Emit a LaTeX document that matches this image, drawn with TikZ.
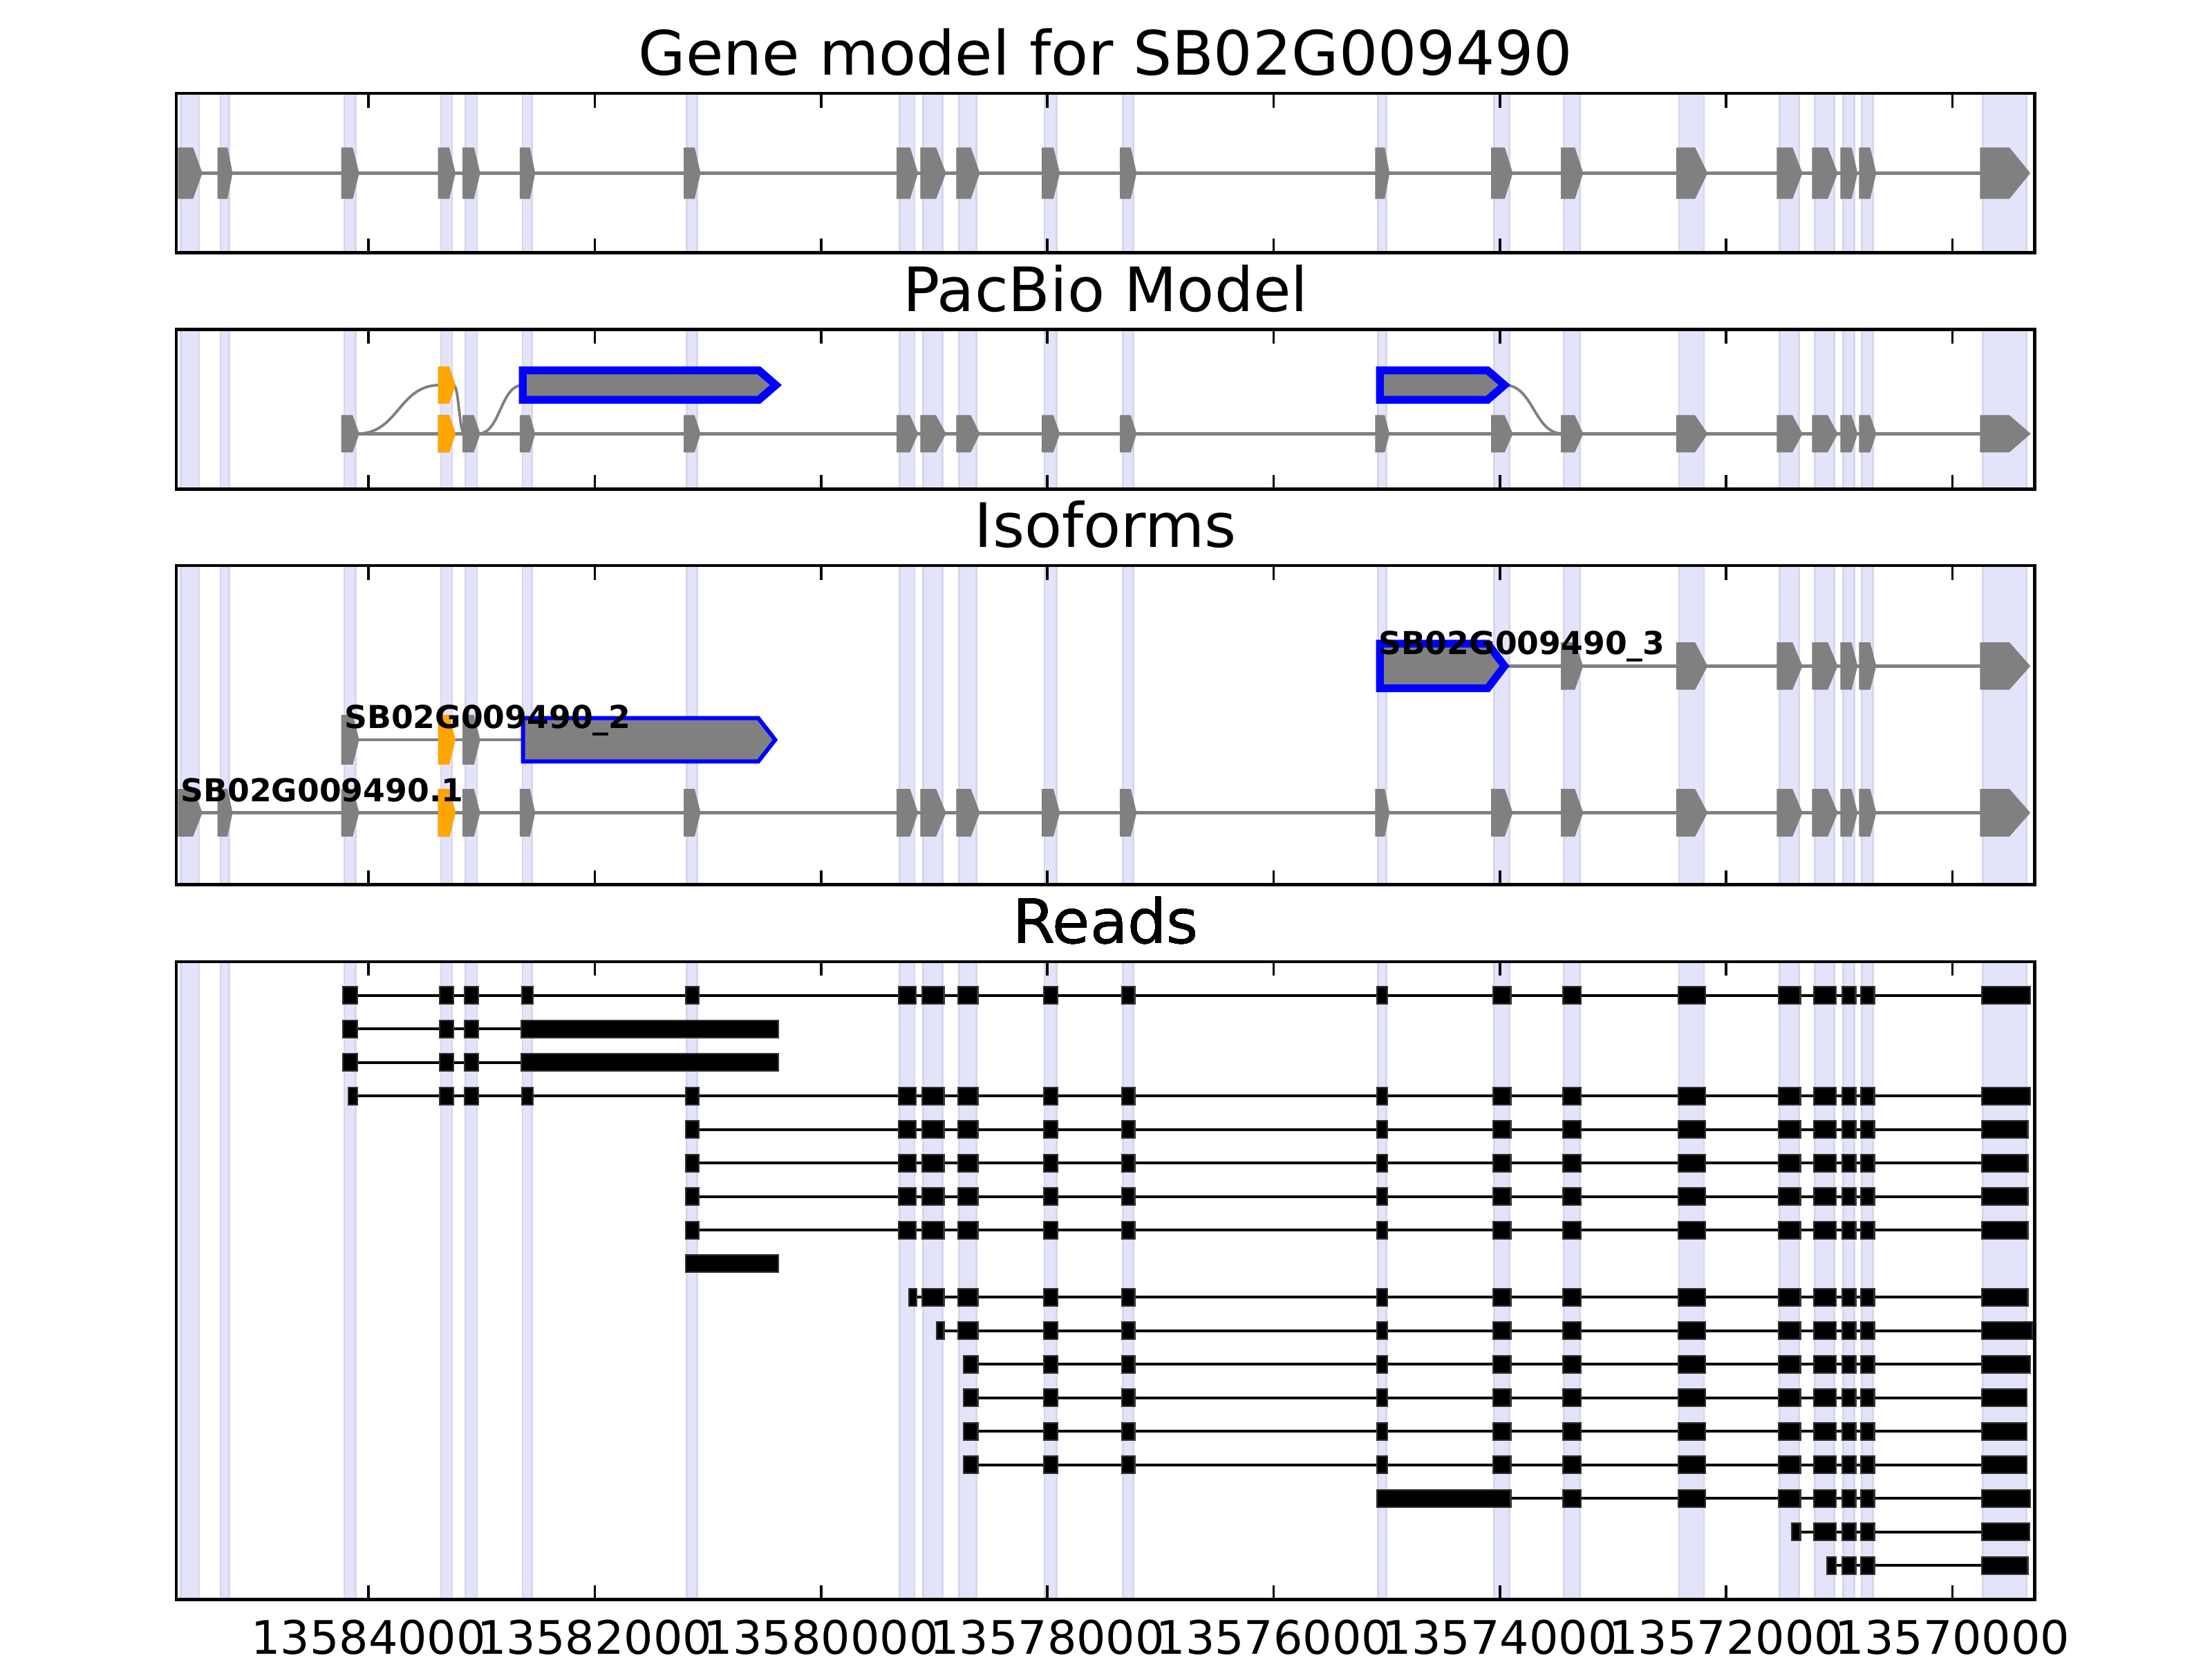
\documentclass[tikz,border=0pt]{standalone}
\usepackage{fontspec}
\setmainfont{DejaVu Sans}

\definecolor{exgray}{HTML}{808080}
\definecolor{exorange}{HTML}{FFA500}
\definecolor{pbblue}{HTML}{0000FF}
\definecolor{bandfill}{HTML}{E3E3FA}
\definecolor{bandline}{HTML}{D6D6EC}

\tikzset{
	band/.style={fill=bandfill, draw=bandline, line width=0.35pt},
	axisline/.style={draw=black, line width=0.65pt},
	axtick/.style={draw=black, line width=0.5pt},
	intron/.style={draw=exgray, line width=0.65pt},
	splice/.style={draw=exgray, line width=0.55pt},
	gexon/.style={line width=0.8pt, line join=miter},
	cds/.style={fill=exgray, draw=pbblue, line join=miter},
	readline/.style={draw=black, line width=0.6pt},
	readbox/.style={fill=black, draw=black!80, line width=0.3pt},
	paneltitle/.style={anchor=base, inner sep=0pt, font=\fontsize{12.6}{15}\selectfont},
	ticklabel/.style={anchor=base, inner sep=0pt, font=\fontsize{9.5}{11}\selectfont},
	isolabel/.style={anchor=base west, inner sep=0pt, font=\fontsize{6.5}{8}\selectfont\bfseries}
}

\def\exlead{127.5/142.0, 155.5/163.5}
\def\exbody{243.2/253.2, 311.8/321.5, 329.3/339.0, 369.8/378.0, 486.0/495.2, 637.0/649.3, 653.7/669.1, 679.2/693.1, 739.8/749.9, 795.2/804.3, 976.1/983.6, 1058.4/1070.9, 1107.9/1120.8, 1189.5/1208.9, 1260.8/1276.2, 1285.8/1301.2, 1305.9/1315.4, 1319.1/1328.6, 1404.9/1437.4}
\edef\exons{\exlead, \exbody}
\def\exright{1107.9/1120.8, 1189.5/1208.9, 1260.8/1276.2, 1285.8/1301.2, 1305.9/1315.4, 1319.1/1328.6, 1404.9/1437.4}
\def\rdmid{739.8/749.9, 795.2/804.3, 976.1/983.6, 1058.4/1070.9, 1107.9/1120.8, 1189.5/1208.9, 1260.8/1276.2, 1285.8/1301.2, 1305.9/1315.4, 1319.1/1328.6}
\def\rdtail{1107.9/1120.8, 1189.5/1208.9, 1260.8/1276.2, 1285.8/1301.2, 1305.9/1315.4, 1319.1/1328.6}

\newcommand{\bands}[2]{\foreach \xa/\xb in \exons {\filldraw[band] (\xa+0.7,#1) rectangle (\xb-1,#2);}}
\newcommand{\axisbox}[2]{%
	\foreach \tx in {261.2,421.6,582.0,742.4,902.8,1063.2,1223.6,1384.0}{
		\draw[axtick] (\tx,#1) -- (\tx,#1+10);
		\draw[axtick] (\tx,#2) -- (\tx,#2-10);}
	\draw[axisline] (125,#1) rectangle (1442.3,#2);}
\newcommand{\gexon}[5][exgray]{%
	\pgfmathsetmacro{\hdl}{0.42*(#3-#2)}
	\filldraw[gexon, fill=#1, draw=#1] (#2,#4-#5) -- (#3-\hdl,#4-#5) -- (#3,#4) -- (#3-\hdl,#4+#5) -- (#2,#4+#5) -- cycle;}
\newcommand{\cdsbox}[5]{%
	\filldraw[cds, line width=#5] (#1,#3-#4) -- (#2-12,#3-#4) -- (#2,#3) -- (#2-12,#3+#4) -- (#1,#3+#4) -- cycle;}
\newcommand{\readrow}[4]{%
	\pgfmathsetmacro{\rowy}{705.4+23.77*(#1-1)}
	\edef\rdlist{#4}
	\draw[readline] (#2,\rowy) -- (#3,\rowy);
	\foreach \xa/\xb in \rdlist {\filldraw[readbox] (\xa,\rowy-6.1) rectangle (\xb,\rowy+6.1);}}

\begin{document}
\begin{tikzpicture}[x=0.010204cm, y=-0.010204cm]
	\useasboundingbox (0,0) rectangle (1568,1176);

	% gene model
	\begin{scope}
		\bands{66.2}{179.2}
		\draw[intron] (127.5,122.7) -- (1437.4,122.7);
		\foreach \xa/\xb in \exons {\gexon{\xa}{\xb}{122.7}{16.8}}
		\axisbox{66.2}{179.2}
		\node[paneltitle] (t1) at (783.7,53.2) {Gene model for SB02G009490};
	\end{scope}

	% pacbio
	\begin{scope}
		\bands{233.5}{346.6}
		\draw[intron] (243.2,307.4) -- (1437.4,307.4);
		\draw[splice] (253.2,307.4) .. controls (282.5,307.4) and (282.5,272.9) .. (311.8,272.9);
		\draw[splice] (321.5,272.9) .. controls (325.4,272.9) and (325.4,307.4) .. (329.3,307.4);
		\draw[splice] (339.0,307.4) .. controls (354.7,307.4) and (354.7,272.9) .. (370.5,272.9);
		\draw[splice] (1066.5,272.9) .. controls (1087.2,272.9) and (1087.2,307.4) .. (1107.9,307.4);
		\foreach \xa/\xb in \exbody {\gexon{\xa}{\xb}{307.4}{11.8}}
		\gexon[exorange]{311.8}{321.5}{307.4}{11.8}
		\gexon[exorange]{311.8}{321.5}{272.9}{11.8}
		\cdsbox{370.5}{550}{272.9}{10.4}{1.6pt}
		\cdsbox{978.2}{1066.5}{272.9}{10.4}{1.6pt}
		\axisbox{233.5}{346.6}
		\node[paneltitle] (t2) at (783.7,220.5) {PacBio Model};
	\end{scope}

	% isoforms
	\begin{scope}
		\bands{400.9}{626.9}
		\draw[intron] (127.5,576) -- (1437.4,576);
		\foreach \xa/\xb in \exons {\gexon{\xa}{\xb}{576}{15.5}}
		\gexon[exorange]{311.8}{321.5}{576}{15.5}
		\draw[intron] (243.2,524.3) -- (371,524.3);
		\gexon{243.2}{253.2}{524.3}{16.2}
		\gexon[exorange]{311.8}{321.5}{524.3}{16.2}
		\gexon{329.3}{339.0}{524.3}{16.2}
		\cdsbox{370.7}{549.5}{524.3}{15.4}{0.85pt}
		\draw[intron] (1066,472) -- (1437.4,472);
		\foreach \xa/\xb in \exright {\gexon{\xa}{\xb}{472}{15.4}}
		\cdsbox{978.1}{1066.5}{472}{15.8}{1.6pt}
		\node[isolabel] (i1) at (127.5,568.3) {SB02G009490.1};
		\node[isolabel] (i2) at (243.5,516.3) {SB02G009490\_2};
		\node[isolabel] (i3) at (976.5,463.8) {SB02G009490\_3};
		\axisbox{400.9}{626.9}
		\node[paneltitle] (t3) at (783.7,387.9) {Isoforms};
	\end{scope}

	% reads
	\begin{scope}
		\bands{681.5}{1133.6}
		\readrow{1}{243.2}{1439.3}{243.2/253.2, 311.8/321.5, 329.3/339.0, 369.8/378.0, 486.0/495.2, 637.0/649.3, 653.7/669.1, 679.2/693.1, \rdmid, 1404.9/1439.3}
		\readrow{2}{243.2}{551.6}{243.2/253.2, 311.8/321.5, 329.3/339.0, 369.6/551.6}
		\readrow{3}{243.2}{551.6}{243.2/253.2, 311.8/321.5, 329.3/339.0, 369.6/551.6}
		\readrow{4}{247.1}{1439.3}{247.1/253.2, 311.8/321.5, 329.3/339.0, 369.8/378.0, 486.0/495.2, 637.0/649.3, 653.7/669.1, 679.2/693.1, \rdmid, 1404.9/1439.3}
		\foreach \r in {5,...,8}
			\readrow{\r}{486.0}{1437.4}{486.0/495.2, 637.0/649.3, 653.7/669.1, 679.2/693.1, \rdmid, 1404.9/1437.4}
		\readrow{9}{486.0}{551.6}{486.0/551.6}
		\readrow{10}{644.5}{1437.4}{644.5/649.8, 653.7/669.1, 679.2/693.1, \rdmid, 1404.9/1437.4}
		\readrow{11}{664.0}{1440.5}{664.0/669.1, 679.2/693.1, \rdmid, 1404.9/1440.5}
		\readrow{12}{683.2}{1439.3}{683.2/693.1, \rdmid, 1404.9/1439.3}
		\foreach \r in {13,14,15}
			\readrow{\r}{683.2}{1436.5}{683.2/693.1, \rdmid, 1404.9/1436.5}
		\readrow{16}{976.1}{1439.3}{976.1/1070.9, \rdtail, 1404.9/1439.3}
		\readrow{17}{1270.1}{1438.8}{1270.1/1276.2, 1285.8/1301.2, 1305.9/1315.4, 1319.1/1328.6, 1404.9/1438.8}
		\readrow{18}{1295.1}{1437.4}{1295.1/1301.2, 1305.9/1315.4, 1319.1/1328.6, 1404.9/1437.4}
		\axisbox{681.5}{1133.6}
		\node[paneltitle] (t4) at (783.7,668.5) {Reads};
	\end{scope}

	\foreach \tx/\lab [count=\i] in {261.2/13584000, 421.6/13582000, 582.0/13580000, 742.4/13578000, 902.8/13576000, 1063.2/13574000, 1223.6/13572000, 1384.0/13570000}
		\node[ticklabel] (l\i) at (\tx,1172.5) {\lab};
\end{tikzpicture}
\end{document}
